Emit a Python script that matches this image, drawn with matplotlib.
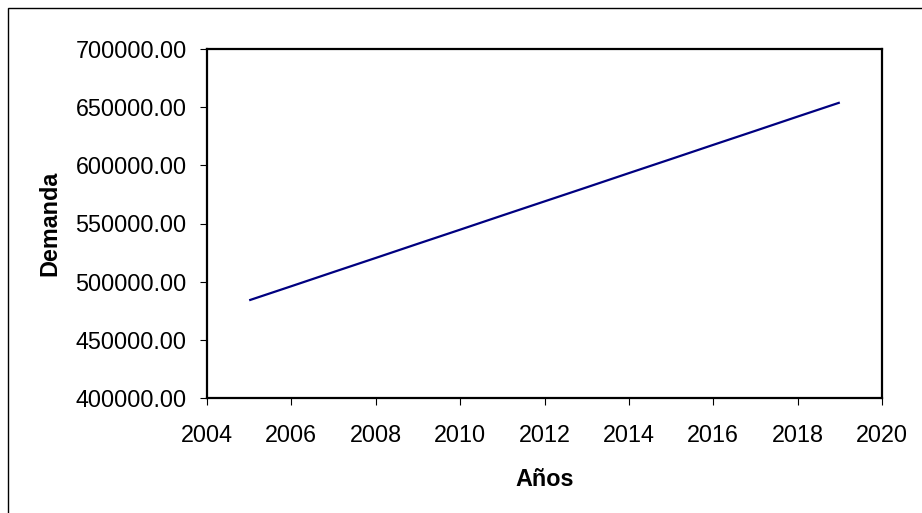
import matplotlib.pyplot as plt
from matplotlib.patches import Rectangle

# Demand projection per year
years = [2005, 2006, 2007, 2008, 2009, 2010, 2011, 2012,
         2013, 2014, 2015, 2016, 2017, 2018, 2019]
demanda = [484000, 496100, 508300, 520400, 532600, 544700, 556900, 569000,
           581100, 593300, 605400, 617600, 629700, 641900, 654000]

x_ticks = list(range(2004, 2021, 2))
y_ticks = list(range(400000, 700001, 50000))

plt.rcParams['font.family'] = ['Liberation Sans', 'DejaVu Sans']

W, H = 922, 513
fig = plt.figure(figsize=(W / 100, H / 100), dpi=100)

# plot area in pixels: left, top, right, bottom
L, T, R, B = 207, 49, 882, 398
ax = fig.add_axes([L / W, 1 - B / H, (R - L) / W, (B - T) / H])

ax.plot(years, demanda, color='#000080', linewidth=1.6, solid_capstyle='butt')

ax.set_xlim(2004, 2020)
ax.set_ylim(400000, 700000)
ax.set_xticks(x_ticks)
ax.set_yticks(y_ticks)
ax.set_yticklabels(['%.2f' % v for v in y_ticks])

for s in ax.spines.values():
    s.set_linewidth(1.6)
    s.set_color('black')

ax.tick_params(axis='both', direction='out', length=5.2, width=0.8,
               labelsize=16.8, colors='black')
ax.tick_params(axis='y', pad=9.5)
ax.tick_params(axis='x', pad=13.5)

ax.set_xlabel('Años', fontsize=16.8, fontweight='bold', labelpad=15)
ax.set_ylabel('Demanda', fontsize=16.8, fontweight='bold', labelpad=10)

# outer frame around the chart
frame = Rectangle((8 / W, -0.1), 1.2, 1 - 8 / H + 0.1, transform=fig.transFigure,
                  fill=False, edgecolor='black', linewidth=1.0, clip_on=False)
fig.patches.append(frame)

fig.savefig('out.png', dpi=100)
